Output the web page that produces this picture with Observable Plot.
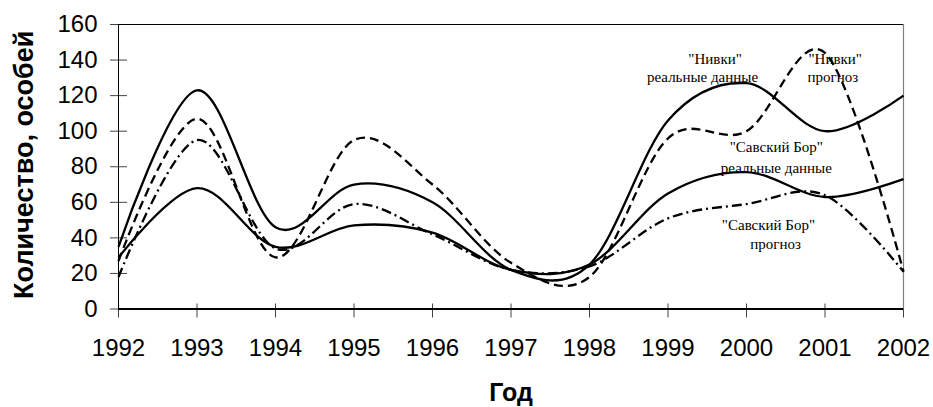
<!DOCTYPE html>
<html>
<head>
<meta charset="utf-8">
<script src="https://cdn.jsdelivr.net/npm/d3@7"></script>
<script src="https://cdn.jsdelivr.net/npm/@observablehq/plot@0.6"></script>
<style>
  html, body { margin: 0; padding: 0; background: #fff; }
</style>
</head>
<body>
<div id="chart"></div>
<script>
const years = [1992, 1993, 1994, 1995, 1996, 1997, 1998, 1999, 2000, 2001, 2002];
const nivkiReal      = [35, 123, 46, 70, 60, 22, 25, 106, 127, 100, 120];
const nivkiForecast  = [27, 107, 29, 95, 70, 26, 18, 96, 100, 144, 21];
const savskyReal     = [29, 68, 35, 47, 43, 22, 25, 65, 77, 63, 73];
const savskyForecast = [18, 95, 34, 59, 42, 22, 24, 51, 59, 64, 21];
const yTicks = [0, 20, 40, 60, 80, 100, 120, 140, 160];

const seriesValues = [nivkiReal, nivkiForecast, savskyReal, savskyForecast];
const seriesDash = [null, "9,5", null, "10,4,2,4"];

const labelTexts = ['"Нивки"', 'реальные данные', '"Нивки"', 'прогноз', '"Савский Бор"', 'реальные данные', '"Савский Бор"', 'прогноз'];
const labelYears = [1999.6, 1999.44, 2001.13, 2001.1, 2000.38, 2000.38, 2000.28, 2000.37];
const labelValues = [137.9, 127.8, 137.9, 127.8, 88.5, 76.7, 44.7, 34.0];

const labels = labelTexts.map((t, i) => ({text: t, x: labelYears[i], y: labelValues[i]}));

const lineMarks = seriesValues.map((vals, k) =>
  Plot.line(years.map((yr, i) => ({x: yr, y: vals[i]})), {
    x: "x", y: "y",
    curve: "cardinal",
    stroke: "black",
    strokeWidth: 2.3,
    strokeDasharray: seriesDash[k] || undefined,
    strokeLinecap: "butt"
  })
);

const chart = Plot.plot({
  width: 933,
  height: 407,
  marginLeft: 118,
  marginRight: 30,
  marginTop: 24,
  marginBottom: 98.5,
  x: {domain: [1992, 2002]},
  y: {domain: [0, 160]},
  style: {fontFamily: "'Liberation Sans', Arial, sans-serif", fontSize: "24px", color: "black", background: "white", overflow: "visible"},
  marks: [
    Plot.axisX({ticks: years, tickFormat: d => String(d), tickSize: 0, tickPadding: 30, fontSize: 24, label: null}),
    Plot.axisY({ticks: yTicks, tickSize: 0, tickPadding: 21, fontSize: 24, label: null}),
    Plot.ruleY(yTicks, {x1: 1992, x2: 1992, insetLeft: -8, insetRight: -9, stroke: "#444", strokeWidth: 1}),
    Plot.ruleX(years, {y1: 0, y2: 0, insetTop: -5, insetBottom: -9, stroke: "#444", strokeWidth: 1}),
    Plot.ruleY([160], {stroke: "black", strokeWidth: 1}),
    Plot.ruleX([2002], {stroke: "#808080", strokeWidth: 1.2}),
    Plot.ruleX([1992], {stroke: "black", strokeWidth: 1}),
    Plot.text(labels, {x: "x", y: "y", text: "text", fontFamily: "'Liberation Serif', 'Times New Roman', serif", fontSize: 15, lineAnchor: "bottom", fill: "black"}),
    ...lineMarks,
    Plot.ruleY([0], {stroke: "black", strokeWidth: 2.2}),
    Plot.text(["Год"], {frameAnchor: "bottom", dy: 92, lineAnchor: "bottom", fontWeight: "bold", fontSize: 25, fill: "black"}),
    Plot.text(["Количество, особей"], {frameAnchor: "left", textAnchor: "middle", dx: -94, dy: -2, rotate: -90, fontWeight: "bold", fontSize: 27, fill: "black"})
  ]
});
document.getElementById("chart").appendChild(chart);
</script>
</body>
</html>
